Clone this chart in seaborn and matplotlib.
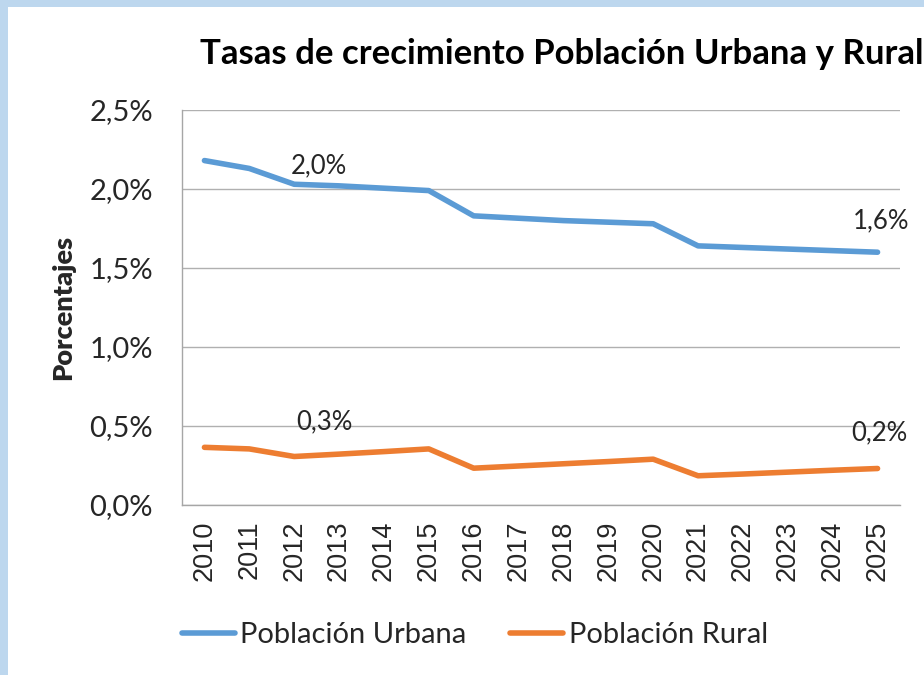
import matplotlib
matplotlib.use("Agg")
import matplotlib.pyplot as plt
from matplotlib.patches import Rectangle
import seaborn as sns
import pandas as pd

# data (percent)
years = [str(y) for y in range(2010, 2026)]
urbana = [2.18, 2.13, 2.03, 2.02, 2.005, 1.99, 1.83, 1.815, 1.80, 1.79, 1.78,
          1.64, 1.63, 1.62, 1.61, 1.60]
rural = [0.365, 0.355, 0.307, 0.322, 0.338, 0.355, 0.233, 0.247, 0.261, 0.275, 0.29,
         0.185, 0.196, 0.208, 0.22, 0.231]
series_names = ["Población Urbana", "Población Rural"]
colors = ["#5B9BD5", "#ED7D31"]

df = pd.DataFrame({
    "Año": years * 2,
    "Tasa": urbana + rural,
    "Serie": [series_names[0]] * len(years) + [series_names[1]] * len(years),
})

sns.set_style("white")
plt.rcParams["font.family"] = ["Lato", "DejaVu Sans"]

fig = plt.figure(figsize=(9.24, 6.75), dpi=100)
fig.patch.set_facecolor("#BDD7EE")
fig.patches.append(Rectangle((8 / 924, 0), 1, 1 - 7 / 675, transform=fig.transFigure,
                             facecolor="white", edgecolor="none", zorder=-10))

ax = fig.add_axes([182 / 924, 1 - 505 / 675, (900 - 182) / 924, (505 - 110) / 675])
ax.set_facecolor("white")

sns.lineplot(data=df, x="Año", y="Tasa", hue="Serie", palette=colors,
             linewidth=4.0, ax=ax, sort=False, solid_capstyle="round")

ax.set_xlim(-0.5, len(years) - 0.5)
ax.set_ylim(0, 2.5)
ax.set_yticks([0, 0.5, 1.0, 1.5, 2.0, 2.5])
ax.set_yticklabels([f"{v:.1f}%".replace(".", ",") for v in ax.get_yticks()], fontsize=21)
ax.set_xticks(range(len(years)))
ax.set_xticklabels(years, rotation=90, fontsize=19.5, family="Liberation Sans")
ax.tick_params(axis="x", length=0, pad=11)
ax.tick_params(axis="y", length=0, pad=21)
ax.yaxis.grid(True, color="#B0B0B0", linewidth=1)
for side in ["top", "right"]:
    ax.spines[side].set_visible(False)
for side in ["left", "bottom"]:
    ax.spines[side].set_color("#A6A6A6")
    ax.spines[side].set_linewidth(1)

ax.set_xlabel("")
ax.set_ylabel("Porcentajes", fontsize=19.5, fontweight="heavy")
ax.yaxis.set_label_coords(-107 / 718, 0.5)

# data labels
labels = [(2, urbana[2], "2,0%", (25, 18)),
          (15, urbana[15], "1,6%", (4, 31)),
          (2, rural[2], "0,3%", (30, 35)),
          (15, rural[15], "0,2%", (2, 36))]
for x, y, txt, off in labels:
    ax.annotate(txt, (x, y), xytext=off, textcoords="offset pixels",
                ha="center", va="center", fontsize=18.5)

fig.text(200 / 924, 1 - 54 / 675, "Tasas de crecimiento Población Urbana y Rural",
         fontsize=25, fontweight="bold", ha="left", va="center", color="black")

handles, _ = ax.get_legend_handles_labels()
ax.legend(handles, series_names, loc="center", bbox_to_anchor=(475 / 924, 1 - 635 / 675),
          bbox_transform=fig.transFigure, ncol=2, frameon=False, fontsize=21,
          handlelength=1.8, handletextpad=0.2, columnspacing=1.5)

fig.savefig("out.png", dpi=100, facecolor=fig.get_facecolor())
